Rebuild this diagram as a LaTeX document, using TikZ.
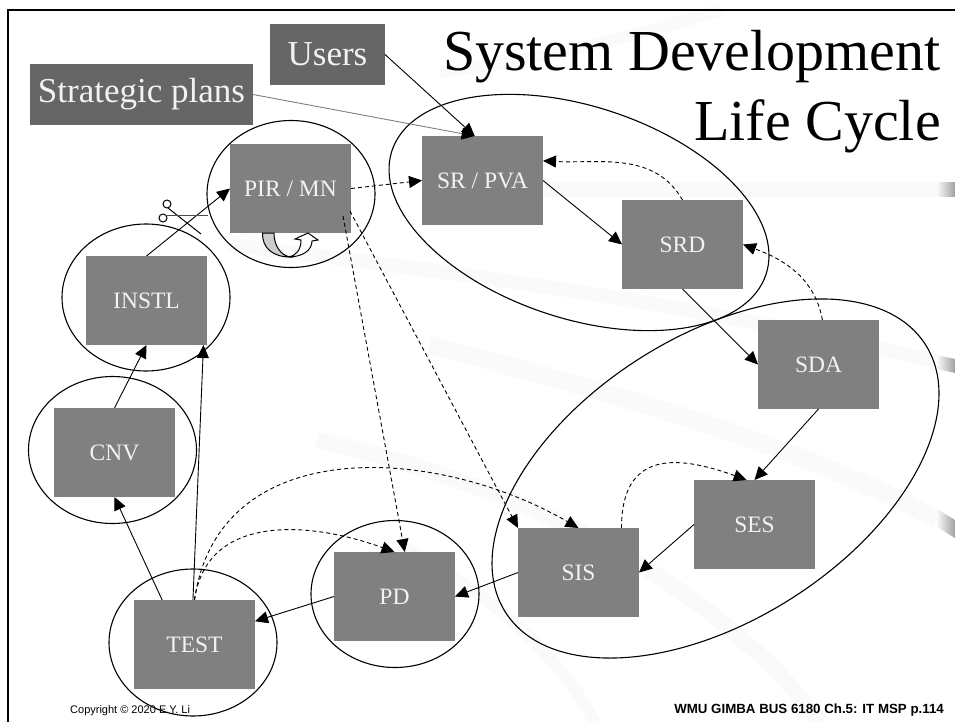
\documentclass[tikz,border=0pt]{standalone}
\usepackage{fontspec}
\setmainfont{Liberation Serif}
\newfontfamily\arialfont{Liberation Sans}
\usetikzlibrary{arrows.meta,shapes.geometric}
\definecolor{boxgray}{HTML}{808080}
\definecolor{inputgray}{HTML}{666666}
\definecolor{swooshgray}{HTML}{FAFAFA}
\begin{document}
\begin{tikzpicture}[x=1pt,y=-1pt,
  main/.style = {fill=boxgray,text=white!95!black,minimum width=121pt,minimum height=89pt,inner sep=0pt,outer sep=0pt,font=\fontsize{23.5}{26}\selectfont},
  input/.style = {fill=inputgray,text=white!95!black,minimum height=61pt,inner sep=0pt,outer sep=0pt,font=\fontsize{35}{38}\selectfont},
  phase/.style = {draw,ellipse,line width=1.1pt,inner sep=0pt,outer sep=0pt},
  flow/.style = {line width=0.9pt,->},
  back/.style = {line width=0.9pt,->,dash pattern=on 4pt off 3pt},
  swoosh/.style = {draw=swooshgray,line cap=butt},
  fade/.style = {left color=swooshgray,right color=gray!75},
  >={Triangle[length=13pt,width=12pt]}]
\useasboundingbox (0,0) rectangle (955,722);
\fill[white] (0,0) rectangle (955,722);
% background
\draw[swoosh,line width=14pt] (480,190) -- (937,190);
\draw[swoosh,line width=14pt] (230,245) .. controls (480,275) and (700,305) .. (937,362);
\draw[swoosh,line width=18pt] (430,345) .. controls (620,395) and (800,445) .. (937,520);
\draw[swoosh,line width=16pt] (317,440) .. controls (540,490) and (720,590) .. (820,722);
\draw[swoosh,line width=12pt] (400,545) .. controls (480,590) and (550,640) .. (595,722);
\draw[swoosh,line width=12pt] (440,72) .. controls (540,60) and (640,35) .. (720,10);
\shade[fade] (937,183) rectangle (955,197);
\shade[fade] (937,355) -- (955,359) -- (955,373) -- (937,369) -- cycle;
\shade[fade] (937,509) -- (955,520) -- (955,538) -- (937,527) -- cycle;
\draw[line width=2.2pt] (955,10) -- (8,10) -- (8,722);
% phases
\node[phase,minimum width=168pt,minimum height=147pt] (ePIR) at (291,194) {};
\node[phase,minimum width=168pt,minimum height=147pt] (eINSTL) at (146,297.5) {};
\node[phase,minimum width=168pt,minimum height=147pt] (eCNV) at (112.5,450) {};
\node[phase,minimum width=168pt,minimum height=147pt] (eTEST) at (193,642.5) {};
\node[phase,minimum width=168pt,minimum height=147pt] (ePD) at (395,594) {};
\node[phase,minimum width=394pt,minimum height=212pt,rotate=-18.3] (eSR) at (579,212.5) {};
\node[phase,minimum width=498pt,minimum height=284pt,rotate=32.5] (eSD) at (715.5,478.5) {};
% boxes
\node[main] (PIR) at (290.5,188.5) {PIR / MN};
\node[main] (SR) at (482.5,180.5) {SR / PVA};
\node[main] (SRD) at (682.5,244.5) {SRD};
\node[main] (SDA) at (818.5,364.5) {SDA};
\node[main] (SES) at (754.5,524.5) {SES};
\node[main] (SIS) at (578.5,572.5) {SIS};
\node[main] (PD) at (394.5,596.5) {PD};
\node[main] (TEST) at (194.5,644.5) {TEST};
\node[main] (CNV) at (114.5,452.5) {CNV};
\node[main] (INSTL) at (146.5,300.5) {INSTL};
\node[input,minimum width=115pt] (Users) at (327.5,54.5) {Users};
\node[input,minimum width=223pt] (Plans) at (141.5,94.5) {Strategic plans};
\node[anchor=base east,align=right,inner sep=0pt,font=\fontsize{58}{70}\selectfont] (Title) at (941,141) {System Development\\Life Cycle};
\node[anchor=base west,inner sep=0pt,font=\arialfont\fontsize{11}{13}\selectfont] (Copy) at (70,713) {Copyright © 2020 E.Y. Li};
\node[anchor=base east,inner sep=0pt,font=\arialfont\bfseries\fontsize{13.3}{15}\selectfont] (Page) at (944,713) {WMU GIMBA BUS 6180 Ch.5: IT MSP p.114};
\coordinate (PIRa) at (343,216);
\coordinate (PIRb) at (350,211);
% solid flow
\draw[flow] (Users.east) -- (SR.100);
\draw[flow,draw=gray,-{Triangle[length=13pt,width=12pt,black]}] (Plans.east) -- (SR.100);
\draw[flow] (SR.east) -- (SRD.west);
\draw[flow] (SRD.south) -- (SDA.west);
\draw[flow] (SDA.south) -- (SES.north);
\draw[flow] (SES.west) -- (SIS.east);
\draw[flow] (SIS.west) -- (PD.east);
\draw[flow] (PD.west) -- (TEST.21);
\draw[flow] (TEST.126) -- (CNV.south);
\draw[flow] (TEST.92) -- (INSTL.-38);
\draw[flow] (CNV.north) -- (INSTL.south);
\draw[flow] (INSTL.north) -- (PIR.west);
% feedback
\draw[back] (PIR.east) -- (SR.west);
\draw[back] (SRD.north) to[out=120,in=-3] (SR.18);
\draw[back] (SDA.85) to[out=100,in=-20] (SRD.east);
\draw[back] (SIS.46) to[out=90,in=160,looseness=1.45] (SES.100);
\draw[back] (TEST.north) to[out=82,in=160,looseness=1.1] (PD.north);
\draw[back] (TEST.north) to[out=82,in=150,looseness=1.1] (SIS.north);
\draw[back] (PIRa) -- (PD.77);
\draw[back] (PIRb) -- (SIS.north west);
% scissors and loop
\draw[line width=1pt] (167,204) circle (4pt) (163,218) circle (4pt);
\draw[line width=1pt] (168,208) -- (201,234);
\draw[line width=1pt,draw=black!70] (167,215) -- (208,215);
\draw[line width=1pt,fill=gray!40] (262.5,233) .. controls (262,248) and (273,257) .. (290,257) .. controls (280,255) and (274,245) .. (274,233) -- cycle;
\draw[line width=1pt,fill=white] (288,257) .. controls (296,256) and (301,250) .. (301,240) -- (295,239) -- (308,233) -- (318,240) -- (312,241) .. controls (312,250) and (303,257) .. (288,257) -- cycle;
\end{tikzpicture}
\end{document}
